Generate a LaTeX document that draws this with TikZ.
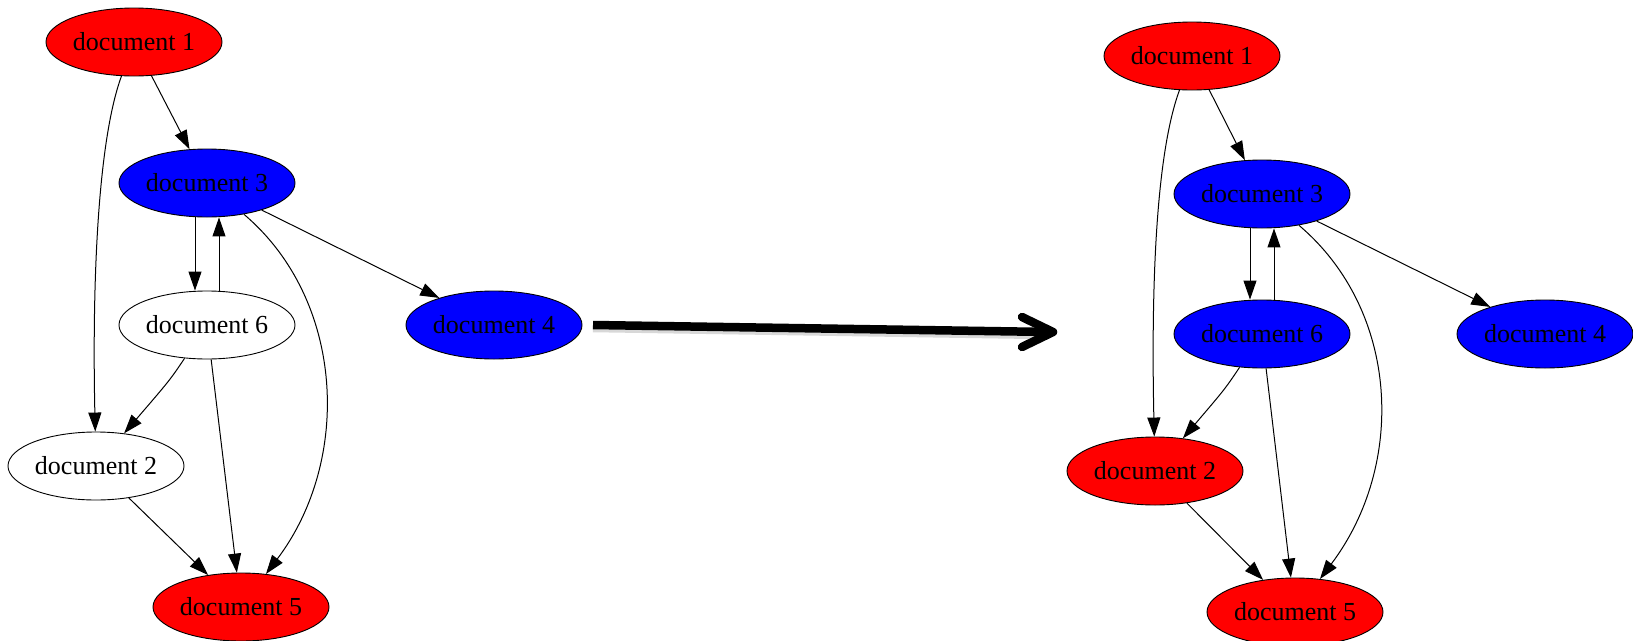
\documentclass[tikz,border=0pt]{standalone}
\usepackage{fontspec}
\setmainfont{Liberation Serif}
\usetikzlibrary{arrows.meta,shapes.geometric,calc}

\begin{document}
\begin{tikzpicture}[x=1pt,y=-1pt,
  doc/.style={ellipse, draw=black, line width=0.9pt, minimum width=176pt,
    minimum height=68pt, inner sep=0pt, font=\fontsize{26}{30}\selectfont},
  red doc/.style={doc, fill=red},
  blue doc/.style={doc, fill=blue},
  plain doc/.style={doc, fill=white},
  link/.style={draw=black, line width=1pt, -{Triangle[length=19pt,width=13pt]}},
  shaft/.style={line width=8.5pt, line cap=butt},
  chevron/.style={line width=8.5pt, line cap=round, line join=round},
]
\useasboundingbox (0,0) rectangle (1633,640);

% ---- graph before ----
\node[red doc]   (L1) at (134,42)  {document 1};
\node[blue doc]  (L3) at (207,183) {document 3};
\node[plain doc] (L6) at (207,325) {document 6};
\node[blue doc]  (L4) at (494,325) {document 4};
\node[plain doc] (L2) at (96,466)  {document 2};
\node[red doc]   (L5) at (241,607) {document 5};

\draw[link] (L1) -- (L3);
\draw[link] (L1) .. controls ($(L1)+(-36,98)$) and ($(L2)+(-4,-186)$) .. (L2);
\draw[link] ([xshift=-12pt]L3.south) -- ([xshift=-12pt]L6.north);
\draw[link] ([xshift=12pt]L6.north) -- ([xshift=12pt]L3.south);
\draw[link] (L3) -- (L4);
\draw[link] (L3) .. controls ($(L3)+(138,117)$) and ($(L5)+(111,-147)$) .. (L5);
\draw[link] (L6) .. controls ($(L6)+(-37,55)$) .. (L2);
\draw[link] (L6) -- (L5);
\draw[link] (L2) -- (L5);

% ---- transition arrow ----
\coordinate (AS) at (593,325);
\coordinate (AE) at (1053,332);
\draw[shaft, black!30, opacity=0.5] ([yshift=-3pt]AS) -- ([yshift=-3pt,xshift=-6pt]AE);
\draw[shaft] (AS) -- ([xshift=-3pt]AE);
\draw[chevron] ($(AE)+(-31,-15)$) -- (AE) -- ($(AE)+(-31,15)$);

% ---- graph after ----
\node[red doc]  (R1) at (1192,56)  {document 1};
\node[blue doc] (R3) at (1262,194) {document 3};
\node[blue doc] (R6) at (1262,334) {document 6};
\node[blue doc] (R4) at (1545,334) {document 4};
\node[red doc]  (R2) at (1155,471) {document 2};
\node[red doc]  (R5) at (1295,612) {document 5};

\draw[link] (R1) -- (R3);
\draw[link] (R1) .. controls ($(R1)+(-36,98)$) and ($(R2)+(-4,-186)$) .. (R2);
\draw[link] ([xshift=-12pt]R3.south) -- ([xshift=-12pt]R6.north);
\draw[link] ([xshift=12pt]R6.north) -- ([xshift=12pt]R3.south);
\draw[link] (R3) -- (R4);
\draw[link] (R3) .. controls ($(R3)+(138,117)$) and ($(R5)+(111,-147)$) .. (R5);
\draw[link] (R6) .. controls ($(R6)+(-37,55)$) .. (R2);
\draw[link] (R6) -- (R5);
\draw[link] (R2) -- (R5);
\end{tikzpicture}
\end{document}
